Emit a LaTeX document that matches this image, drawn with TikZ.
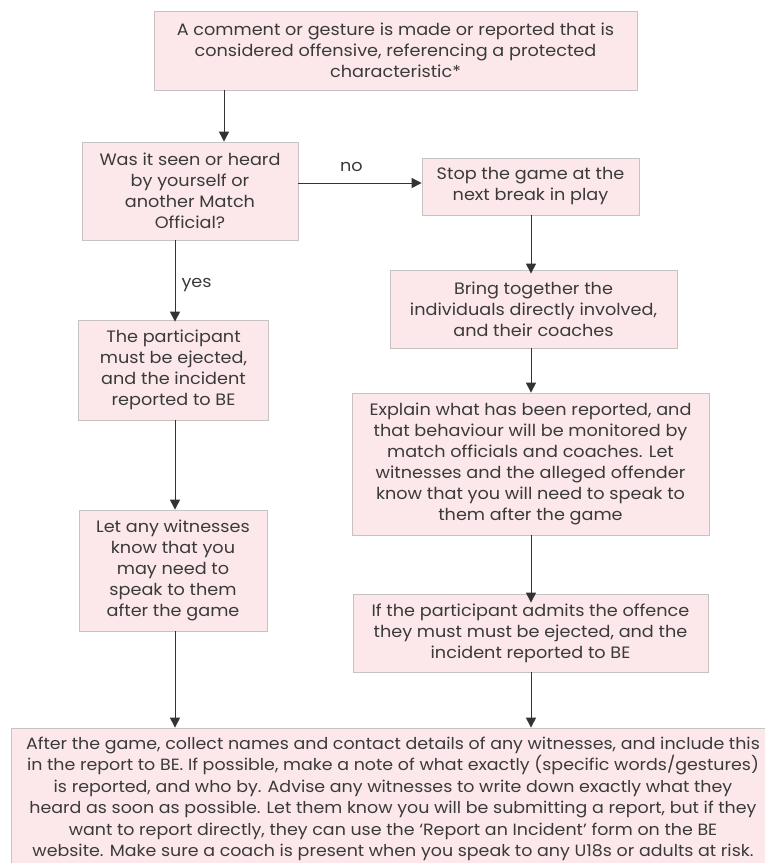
\documentclass[tikz,border=0pt]{standalone}
\usepackage{fontspec}
\setmainfont[FakeStretch=1.07]{Poppins}
\usetikzlibrary{arrows.meta}
\definecolor{boxfill}{HTML}{FCE8EA}
\definecolor{boxline}{HTML}{C9C2C3}
\definecolor{txt}{HTML}{3A3A3A}
\tikzset{
  box/.style={draw=boxline, line width=0.8pt, fill=boxfill, text=txt, align=center,
    font=\fontsize{16.5}{21}\selectfont, inner sep=0pt, anchor=center},
  arr/.style={draw=black!80, line width=1pt, -{Triangle[width=10pt,length=10pt]}},
  lbl/.style={text=txt, font=\fontsize{16.5}{19}\selectfont, inner sep=0pt}
}
\begin{document}
\begin{tikzpicture}[x=1pt,y=-1pt]
\useasboundingbox (0,0) rectangle (764,863);
\node[box, minimum width=483, minimum height=79] (b1) at (395.5,50.5)
  {A comment or gesture is made or reported that is\\considered offensive, referencing a protected\\characteristic*};
\node[box, minimum width=216, minimum height=98] (b2) at (190,191)
  {Was it seen or heard\\by yourself or\\another Match\\Official?};
\node[box, minimum width=217, minimum height=57] (b3) at (530.5,186.5)
  {Stop the game at the\\next break in play};
\node[box, minimum width=287, minimum height=78] (b4) at (533.5,309)
  {Bring together the\\individuals directly involved,\\and their coaches};
\node[box, minimum width=357, minimum height=142] (b5) at (530.5,464)
  {Explain what has been reported, and\\that behaviour will be monitored by\\match officials and coaches. Let\\witnesses and the alleged offender\\know that you will need to speak to\\them after the game};
\node[box, minimum width=355, minimum height=78] (b6) at (530.5,633)
  {If the participant admits the offence\\they must must be ejected, and the\\incident reported to BE};
\node[box, minimum width=190, minimum height=100] (b7) at (173.5,370)
  {The participant\\must be ejected,\\and the incident\\reported to BE};
\node[box, minimum width=188, minimum height=121] (b8) at (173,570.5)
  {Let any witnesses\\know that you\\may need to\\speak to them\\after the game};
\node[box, minimum width=760, minimum height=142] (b9) at (391,799) {};
\node[text=txt, align=center, inner sep=0pt, font=\fontsize{16.3}{21.5}\selectfont] (t9) at (393,799)
  {After the game, collect names and contact details of any witnesses, and include this\\in the report to BE. If possible, make a note of what exactly (specific words/gestures)\\is reported, and who by. Advise any witnesses to write down exactly what they\\heard as soon as possible. Let them know you will be submitting a report, but if they\\want to report directly, they can use the ‘Report an Incident’ form on the BE\\website. Make sure a coach is present when you speak to any U18s or adults at risk.};
\coordinate (xa) at (224,0);
\coordinate (xl) at (175,0);
\coordinate (xr) at (531,0);
\coordinate (yn) at (0,183);
\draw[arr] (b1.south -| xa) -- (b2.north -| xa);
\draw[arr] (b2.east |- yn) -- node[lbl, above=11pt, pos=0.43] (no) {no} (b3.west |- yn);
\draw[arr] (b2.south -| xl) -- node[lbl, right=6pt, pos=0.55] (yes) {yes} ([yshift=-2]b7.north -| xl);
\draw[arr] (b7.south -| xl) -- (b8.north -| xl);
\draw[arr] (b8.south -| xl) -- (b9.north -| xl);
\draw[arr] (b3.south -| xr) -- ([yshift=-4]b4.north -| xr);
\draw[arr] (b4.south -| xr) -- (b5.north -| xr);
\draw[arr] (b5.south -| xr) -- ([yshift=-9]b6.north -| xr);
\draw[arr] (b6.south -| xr) -- (b9.north -| xr);
\end{tikzpicture}
\end{document}
